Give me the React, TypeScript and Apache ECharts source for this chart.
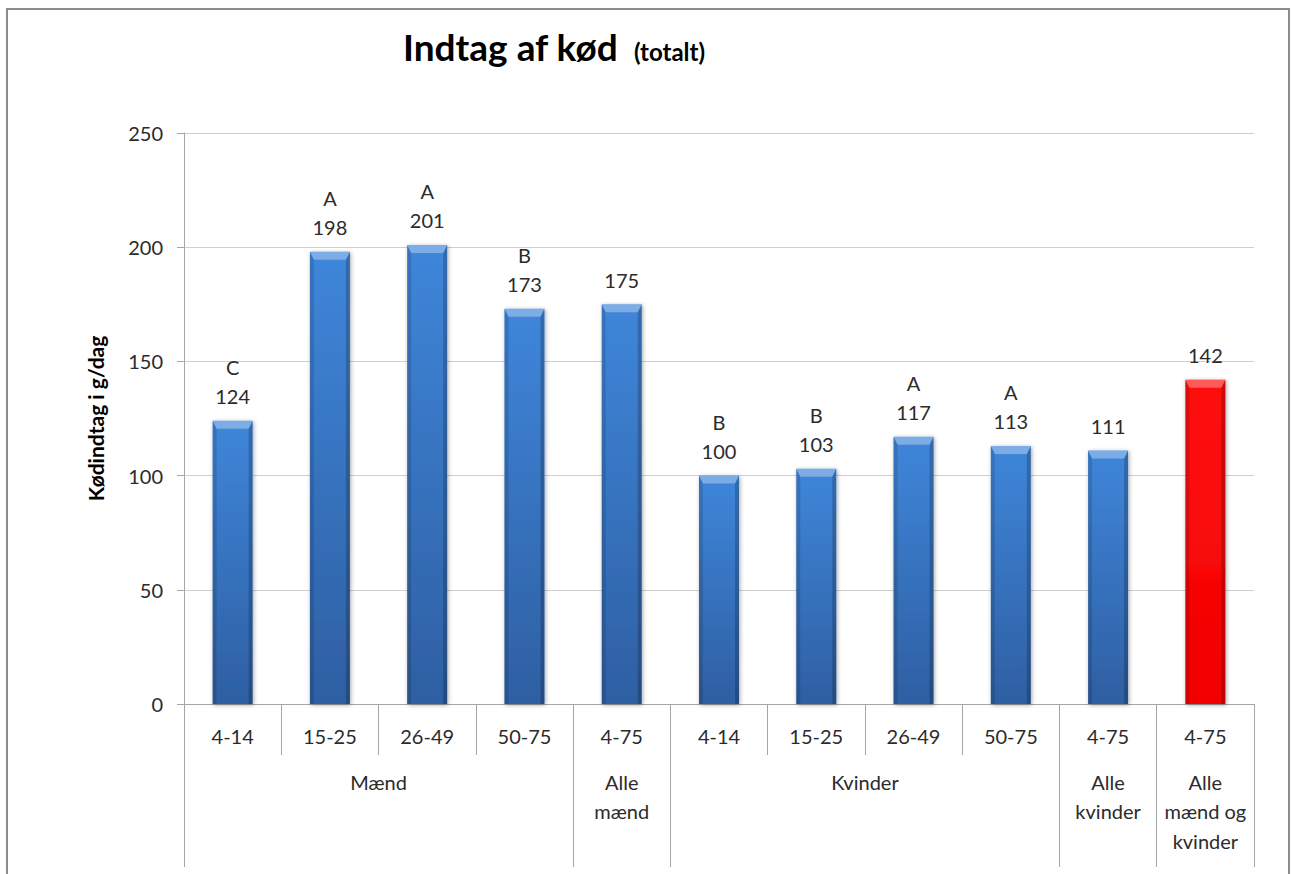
import React, { useEffect, useRef } from "react";
import * as echarts from "echarts";

// ---- data ----
const ageGroups = ["4-14", "15-25", "26-49", "50-75", "4-75", "4-14", "15-25", "26-49", "50-75", "4-75", "4-75"];
const groupNames = ["Mænd", "Alle\nmænd", "Kvinder", "Alle\nkvinder", "Alle\nmænd og\nkvinder"];
const groupSizes = [4, 1, 4, 1, 1];
const meatIntake = [124, 198, 201, 173, 175, 100, 103, 117, 113, 111, 142];
const significance = ["C", "A", "A", "B", "", "B", "B", "A", "A", "", ""];
const highlightIndex = 10;
const yMin = 0;
const yMax = 250;
const yStep = 50;
const titleMain = "Indtag af kød";
const titleSub = "(totalt)";
const yAxisTitle = "Kødindtag i g/dag";

const boundaries: number[] = [0];
groupSizes.forEach((s) => boundaries.push(boundaries[boundaries.length - 1] + s));
const groupCenters = groupSizes.map((s, i) => boundaries[i] + s / 2);

const FONT = "Lato, 'Open Sans', sans-serif";
const TEXT = "#2b2b2b";
const AXIS = "#a6a6a6";

export default function App() {
  const ref = useRef<HTMLDivElement>(null);
  useEffect(() => {
    if (!ref.current) return;
    const chart = echarts.init(ref.current, undefined, { renderer: "svg" });
    const option: any = {
      animation: false,
      backgroundColor: "#ffffff",
      textStyle: { fontFamily: FONT },
      grid: { left: 184, right: 38, top: 133, bottom: 170, containLabel: false },
      graphic: [
        {
          type: "rect",
          silent: true,
          shape: { x: 7, y: 9, width: 1282, height: 900 },
          style: { fill: "none", stroke: "#8c8c8c", lineWidth: 2 },
        },
        {
          type: "text",
          x: 403,
          y: 46,
          style: {
            text: titleMain,
            fontFamily: FONT,
            fontWeight: "bold",
            fontSize: 37,
            fill: "#000",
            verticalAlign: "middle",
          },
        },
        {
          type: "text",
          x: 634,
          y: 51,
          style: {
            text: titleSub,
            fontFamily: FONT,
            fontWeight: "bold",
            fontSize: 24,
            fill: "#000",
            verticalAlign: "middle",
          },
        },
      ],
      xAxis: [
        {
          type: "category",
          data: ageGroups,
          position: "bottom",
          boundaryGap: true,
          axisLine: { show: true, lineStyle: { color: AXIS, width: 1 } },
          axisTick: { show: true, interval: 0, length: 51, lineStyle: { color: AXIS } },
          axisLabel: { interval: 0, fontSize: 20, color: TEXT, fontFamily: FONT, margin: 17, lineHeight: 29 },
        },
        {
          type: "value",
          position: "bottom",
          offset: 0,
          min: 0,
          max: ageGroups.length,
          splitLine: { show: false },
          axisLine: { show: false },
          axisTick: { show: true, customValues: boundaries, length: 163, lineStyle: { color: AXIS } },
          axisLabel: {
            customValues: groupCenters,
            formatter: (v: number) => {
              const i = groupCenters.indexOf(v);
              return i >= 0 ? groupNames[i] : "";
            },
            fontSize: 20,
            color: TEXT,
            fontFamily: FONT,
            margin: 63,
            lineHeight: 29.5,
            verticalAlign: "top",
          },
        },
      ],
      yAxis: {
        type: "value",
        min: yMin,
        max: yMax,
        interval: yStep,
        name: yAxisTitle,
        nameLocation: "middle",
        nameRotate: 90,
        nameGap: 78,
        nameTextStyle: { fontFamily: FONT, fontWeight: "bold", fontSize: 21, color: "#000" },
        axisLine: { show: true, lineStyle: { color: AXIS } },
        axisTick: { show: true, length: 7, lineStyle: { color: AXIS } },
        axisLabel: { fontSize: 20, color: TEXT, fontFamily: FONT, margin: 21 },
        splitLine: { show: true, lineStyle: { color: "#cfcfcf" } },
      },
      series: [
        {
          type: "bar",
          xAxisIndex: 0,
          data: meatIntake,
          barWidth: 40,
          silent: true,
          itemStyle: { color: "rgba(0,0,0,0)" },
          label: {
            show: true,
            position: "top",
            distance: 10,
            fontSize: 20,
            lineHeight: 29,
            color: TEXT,
            fontFamily: FONT,
            formatter: (p: any) => {
              const s = significance[p.dataIndex];
              return s ? s + "\n" + p.value : String(p.value);
            },
          },
          z: 3,
        },
        {
          type: "custom",
          xAxisIndex: 0,
          silent: true,
          z: 2,
          data: meatIntake.map((v, i) => [i, v]),
          encode: { x: 0, y: 1 },
          renderItem: (params: any, api: any) => {
            const idx = api.value(0) as number;
            const val = api.value(1) as number;
            const top = api.coord([idx, val]);
            const base = api.coord([idx, 0]);
            const w = 40;
            const x0 = top[0] - w / 2;
            const x1 = top[0] + w / 2;
            const y0 = top[1];
            const y1 = base[1];
            const red = idx === highlightIndex;
            const fill = red
              ? new echarts.graphic.LinearGradient(0, 0, 0, 1, [
                  { offset: 0, color: "#ff1010" },
                  { offset: 1, color: "#f20000" },
                ])
              : new echarts.graphic.LinearGradient(0, 0, 0, 1, [
                  { offset: 0, color: "#3f86da" },
                  { offset: 1, color: "#2e5fa2" },
                ]);
            const bev = 8;
            const side = 4;
            return {
              type: "group",
              children: [
                {
                  type: "rect",
                  shape: { x: x0, y: y0, width: w, height: y1 - y0 },
                  style: {
                    fill,
                    shadowBlur: 4,
                    shadowColor: "rgba(0,0,0,0.35)",
                    shadowOffsetX: 1,
                    shadowOffsetY: 1,
                  },
                },
                {
                  type: "polygon",
                  shape: { points: [[x0, y0], [x0 + side, y0 + bev], [x0 + side, y1], [x0, y1]] },
                  style: { fill: "rgba(0,0,0,0.13)" },
                },
                {
                  type: "polygon",
                  shape: { points: [[x1, y0], [x1 - side, y0 + bev], [x1 - side, y1], [x1, y1]] },
                  style: { fill: "rgba(0,0,0,0.2)" },
                },
                {
                  type: "polygon",
                  shape: { points: [[x0, y0], [x1, y0], [x1 - side, y0 + bev], [x0 + side, y0 + bev]] },
                  style: { fill: "rgba(255,255,255,0.32)" },
                },
              ],
            };
          },
        },
      ],
    };
    chart.setOption(option);
    return () => chart.dispose();
  }, []);
  return (
    <div
      ref={ref}
      style={{ position: "absolute", left: 0, top: 0, width: 1292, height: 874 }}
    />
  );
}
